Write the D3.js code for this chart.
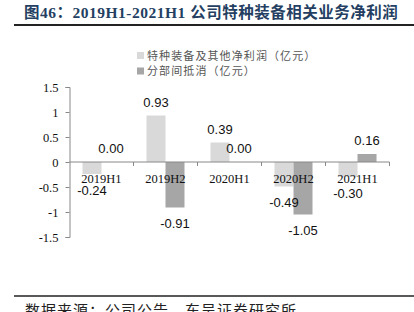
<!DOCTYPE html>
<html>
<head>
  <meta charset="utf-8">
  <script src="https://d3js.org/d3.v7.min.js"></script>
  <style>
    body { margin: 0; background: #fff; }
    svg { display: block; }
  </style>
</head>
<body>

<script>
  var categories = ["2019H1", "2019H2", "2020H1", "2020H2", "2021H1"];
  var seriesNames = ["特种装备及其他净利润（亿元）", "分部间抵消（亿元）"];
  var specialProfit = [-0.24, 0.93, 0.39, -0.49, -0.30];
  var offsetProfit = [0.00, -0.91, 0.00, -1.05, 0.16];
  var yTicks = [-1.5, -1, -0.5, 0, 0.5, 1, 1.5];
  var colors = ["#d9d9d9", "#a6a6a6"];

  var width = 414,
      height = 312;

  var svg = d3.select("body")
      .append("svg")
      .attr("width", width)
      .attr("height", height);

  // title + rule
  svg.append("text")
      .attr("x", 24)
      .attr("y", 18)
      .attr("fill", "#243f62")
      .style("font-family", "'Liberation Serif', 'Noto Sans CJK SC', serif")
      .style("font-weight", "bold")
      .style("font-size", "15.5px")
      .style("letter-spacing", "0.5px")
      .text("图46：2019H1-2021H1 公司特种装备相关业务净利润");

  svg.append("line")
      .attr("x1", 14).attr("x2", 414)
      .attr("y1", 25).attr("y2", 25)
      .attr("stroke", "#222")
      .attr("stroke-width", 2);

  // legend
  var legend = svg.selectAll(".legend")
      .data(seriesNames)
      .enter().append("g")
      .attr("class", "legend")
      .attr("transform", function(d, i) { return "translate(137," + (52 + i * 15.5) + ")"; });

  legend.append("rect")
      .attr("width", 7)
      .attr("height", 7)
      .attr("fill", function(d, i) { return colors[i]; });

  legend.append("text")
      .attr("x", 10)
      .attr("y", 7.5)
      .attr("fill", "#555")
      .style("font-family", "'Noto Sans CJK SC', sans-serif")
      .style("font-size", "11px")
      .style("letter-spacing", "1.1px")
      .text(function(d) { return d; });

  // scales
  var y = d3.scaleLinear()
      .domain([-1.5, 1.5])
      .range([237, 87]);

  var x = d3.scaleBand()
      .domain(categories)
      .range([69.5, 389.5])
      .paddingInner(0.40625)
      .paddingOuter(0.203);

  var xSeries = d3.scaleBand()
      .domain([0, 1])
      .range([0, x.bandwidth()]);

  var data = categories.map(function(c, i) {
    return { cat: c, values: [specialProfit[i], offsetProfit[i]] };
  });

  // bars
  var groups = svg.selectAll(".grp")
      .data(data)
      .enter().append("g")
      .attr("class", "grp")
      .attr("transform", function(d) { return "translate(" + x(d.cat) + ",0)"; });

  groups.selectAll("rect")
      .data(function(d) { return d.values; })
      .enter().append("rect")
      .attr("x", function(d, i) { return xSeries(i); })
      .attr("width", xSeries.bandwidth())
      .attr("y", function(d) { return y(Math.max(0, d)); })
      .attr("height", function(d) { return Math.abs(y(d) - y(0)); })
      .attr("fill", function(d, i) { return colors[i]; });

  // y axis
  var yAxis = svg.append("g")
      .attr("transform", "translate(69.5,0)")
      .call(d3.axisLeft(y).tickValues(yTicks).tickSize(4).tickFormat(function(d) { return String(d); }));

  yAxis.selectAll("path, line").attr("stroke", "#888");
  yAxis.selectAll("text")
      .attr("fill", "#111")
      .attr("x", -11)
      .style("font-family", "'Liberation Serif', serif")
      .style("font-size", "12.5px");

  // x axis line with ticks at category boundaries
  svg.append("line")
      .attr("x1", 69.5).attr("x2", 389.5)
      .attr("y1", y(0)).attr("y2", y(0))
      .attr("stroke", "#888");

  svg.selectAll(".xtick")
      .data(categories)
      .enter().append("line")
      .attr("class", "xtick")
      .attr("x1", function(d) { return x(d) + x.bandwidth() / 2 + x.step() / 2; })
      .attr("x2", function(d) { return x(d) + x.bandwidth() / 2 + x.step() / 2; })
      .attr("y1", y(0)).attr("y2", y(0) + 4)
      .attr("stroke", "#888");

  svg.selectAll(".xlabel")
      .data(categories)
      .enter().append("text")
      .attr("class", "xlabel")
      .attr("x", function(d) { return x(d) + x.bandwidth() / 2; })
      .attr("y", y(0) + 21)
      .attr("text-anchor", "middle")
      .attr("fill", "#111")
      .style("font-family", "'Liberation Serif', serif")
      .style("font-size", "12.5px")
      .text(function(d) { return d; });

  // value labels
  groups.selectAll(".val")
      .data(function(d) { return d.values; })
      .enter().append("text")
      .attr("class", "val")
      .attr("x", function(d, i) { return xSeries(i) + xSeries.bandwidth() / 2; })
      .attr("y", function(d) { return d >= 0 ? y(d) - 8.7 : y(d) + 20.5; })
      .attr("text-anchor", "middle")
      .attr("fill", "#111")
      .style("font-family", "'Liberation Sans', Arial, sans-serif")
      .style("font-size", "13px")
      .text(function(d) { return d.toFixed(2); });

  // source line
  svg.append("line")
      .attr("x1", 14).attr("x2", 414)
      .attr("y1", 296).attr("y2", 296)
      .attr("stroke", "#222")
      .attr("stroke-width", 1.5);

  svg.append("text")
      .attr("x", 25)
      .attr("y", 316)
      .attr("fill", "#222")
      .style("font-family", "'Noto Sans CJK SC', sans-serif")
      .style("font-size", "15px")
      .style("letter-spacing", "1px")
      .text("数据来源：公司公告，东吴证券研究所");
</script>

</body>
</html>
